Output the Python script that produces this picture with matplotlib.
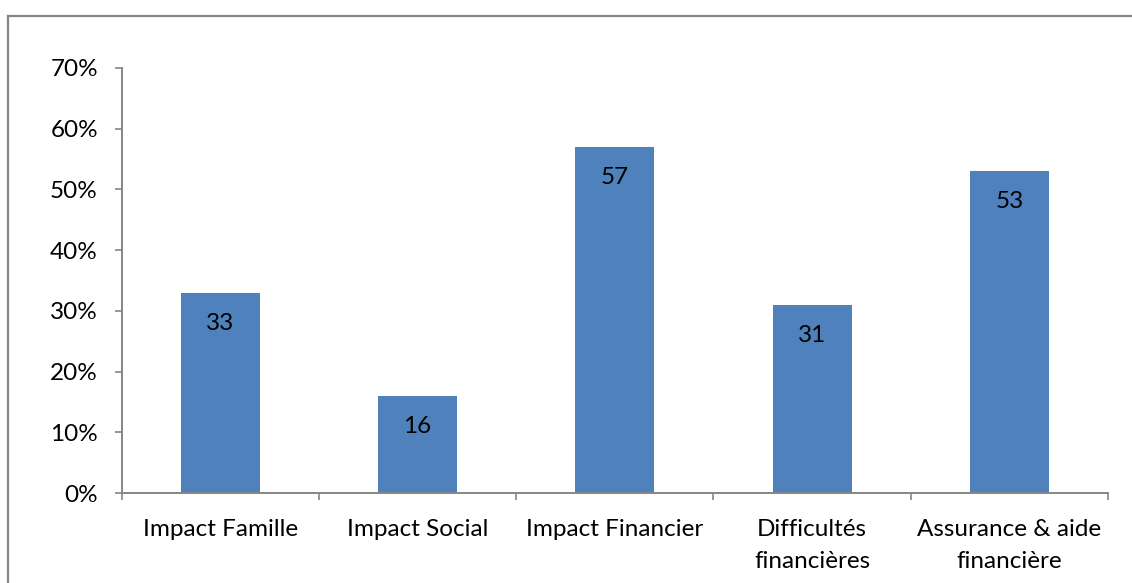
import matplotlib
matplotlib.use("Agg")
import matplotlib.pyplot as plt
from matplotlib.lines import Line2D

categories = ["Impact Famille", "Impact Social", "Impact Financier",
              "Difficultés\nfinancières", "Assurance & aide\nfinancière"]
values = [33, 16, 57, 31, 53]
yticks = [0, 10, 20, 30, 40, 50, 60, 70]
ytick_labels = [f"{v}%" for v in yticks]

plt.rcParams['font.family'] = ['Lato', 'DejaVu Sans']
FS = 17.5
W, H = 1132, 583
fig = plt.figure(figsize=(W / 100, H / 100), dpi=100)

# outer border
gray = "#868686"
fig.add_artist(Line2D([8 / W, 1.0], [1 - 16 / H, 1 - 16 / H], color=gray, lw=1.6,
                      transform=fig.transFigure))
fig.add_artist(Line2D([8 / W, 8 / W], [1 - 16 / H, 0], color=gray, lw=1.6,
                      transform=fig.transFigure))

ax = fig.add_axes([121.5 / W, (H - 493) / H, (1108 - 121.5) / W, (493 - 68) / H])
x = list(range(len(categories)))
ax.bar(x, values, width=0.4, color="#4F81BD")
ax.set_xlim(-0.5, len(categories) - 0.5)
ax.set_ylim(0, 70)
ax.set_yticks(yticks)
ax.set_yticklabels(ytick_labels, fontsize=FS)
ax.set_xticks(x)
ax.set_xticklabels(categories, fontsize=FS, linespacing=1.6, va="top")
ax.tick_params(axis="x", length=0, pad=19)
# boundary ticks on x axis
ax.set_xticks([i - 0.5 for i in range(len(categories) + 1)], minor=True)
ax.tick_params(axis="x", which="minor", length=5, width=1.2, color=gray, direction="out")
ax.tick_params(axis="y", length=5, width=1.2, color=gray, direction="out", pad=12)

for s in ["top", "right"]:
    ax.spines[s].set_visible(False)
for s in ["left", "bottom"]:
    ax.spines[s].set_color(gray)
    ax.spines[s].set_linewidth(1.4)

for xi, v in zip(x, values):
    ax.annotate(str(v), (xi, v), xytext=(0, -22), textcoords="offset points",
                ha="center", va="center", fontsize=FS, color="black")

fig.savefig("out.png", dpi=100)
